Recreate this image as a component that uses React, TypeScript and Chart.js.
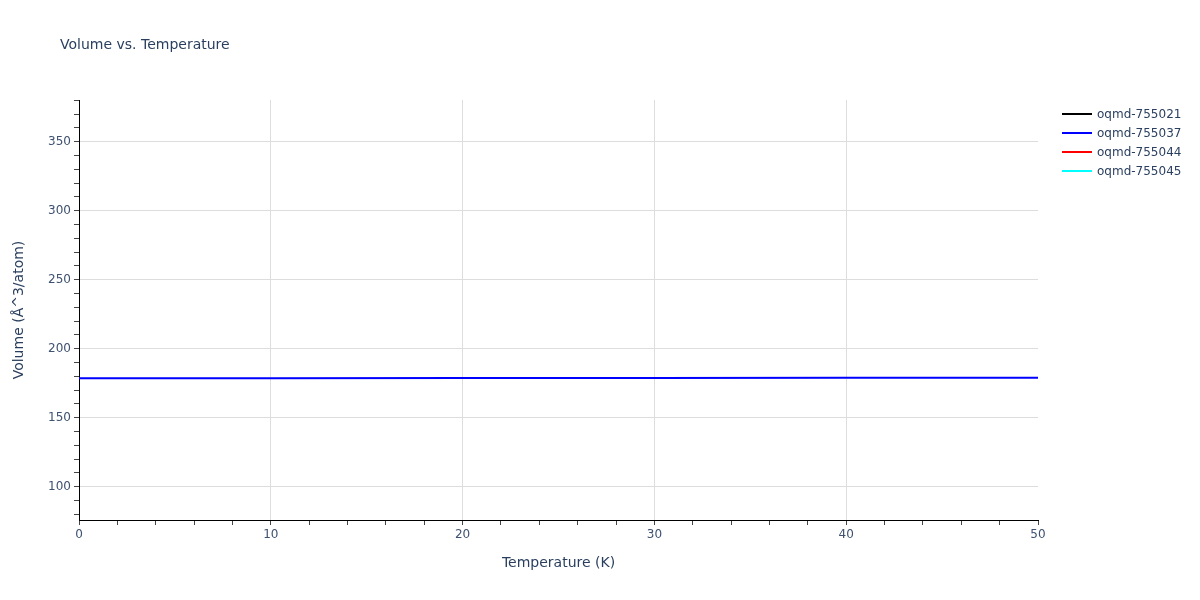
import React, { useEffect, useRef } from "react";
import { Chart, registerables } from "chart.js";

Chart.register(...registerables);

const chartTitle = "Volume vs. Temperature";
const xTitle = "Temperature (K)";
const yTitle = "Volume (Å^3/atom)";

const seriesNames = ["oqmd-755021", "oqmd-755037", "oqmd-755044", "oqmd-755045"];
const seriesColors = ["#000000", "#0000ff", "#ff0000", "#00ffff"];

const temperatures = [0, 10, 20, 30, 40, 50];
const volume755021: number[] = [];
const volume755037 = [178.6, 178.65, 178.7, 178.8, 178.9, 179.0];
const volume755044: number[] = [];
const volume755045: number[] = [];

const xMin = 0;
const xMax = 50;
const yMin = 75.9;
const yMax = 380.2;
const xMinorStep = 2;
const xMajorStep = 10;
const yMinorStep = 10;
const yMajorStep = 50;

const FONT = '"DejaVu Sans", Verdana, sans-serif';
const TEXT = "#2a3f5f";
const TICK_TEXT = "#3e5170";
const GRID = "#dddddd";

function toPoints(ys: number[]) {
  return ys.map((y, i) => ({ x: temperatures[i], y }));
}

function stepTicks(min: number, max: number, step: number) {
  const out: { value: number }[] = [];
  for (let v = Math.ceil(min / step) * step; v <= max + 1e-9; v += step) {
    out.push({ value: Math.round(v * 1000) / 1000 });
  }
  return out;
}

const decorPlugin = {
  id: "decor",
  afterDraw(chart: any) {
    const ctx = chart.ctx;
    ctx.save();
    ctx.fillStyle = TEXT;
    ctx.font = `14px ${FONT}`;
    ctx.textBaseline = "middle";
    ctx.textAlign = "left";
    ctx.fillText(chartTitle, 60, 45);
    ctx.font = `12px ${FONT}`;
    chart.data.datasets.forEach((ds: any, i: number) => {
      const y = 114 + i * 19;
      ctx.strokeStyle = ds.borderColor;
      ctx.lineWidth = 2;
      ctx.beginPath();
      ctx.moveTo(1062, y);
      ctx.lineTo(1092, y);
      ctx.stroke();
      ctx.fillStyle = TEXT;
      ctx.fillText(ds.label, 1097, y + 1);
    });
    ctx.restore();
  },
};

export default function App() {
  const ref = useRef<HTMLCanvasElement | null>(null);
  useEffect(() => {
    if (!ref.current) return;
    const allSeries = [volume755021, volume755037, volume755044, volume755045];
    const chart = new Chart(ref.current, {
      type: "line",
      data: {
        datasets: allSeries.map((s, i) => ({
          label: seriesNames[i],
          data: toPoints(s),
          borderColor: seriesColors[i],
          backgroundColor: seriesColors[i],
          borderWidth: 2,
          pointRadius: 0,
          tension: 0,
          fill: false,
        })),
      },
      options: {
        responsive: false,
        animation: false,
        layout: { padding: { left: 0, top: 100, right: 162, bottom: 0 } },
        plugins: {
          legend: { display: false },
          title: { display: false },
          tooltip: { enabled: false },
        },
        scales: {
          x: {
            type: "linear",
            min: xMin,
            max: xMax,
            afterFit: (s: any) => {
              s.height = 80;
            },
            afterBuildTicks: (s: any) => {
              s.ticks = stepTicks(xMin, xMax, xMinorStep);
            },
            ticks: {
              autoSkip: false,
              maxRotation: 0,
              padding: 3,
              color: TICK_TEXT,
              font: { family: FONT, size: 12 },
              callback: (v: any) => (Number(v) % xMajorStep === 0 ? String(v) : ""),
            },
            grid: {
              drawTicks: true,
              tickLength: 5,
              tickColor: "#444444",
              color: (c: any) =>
                c.tick && c.tick.value % xMajorStep === 0 && c.tick.value !== xMin && c.tick.value !== xMax
                  ? GRID
                  : "rgba(0,0,0,0)",
            },
            border: { display: true, color: "#000000", width: 1 },
            title: {
              display: true,
              text: xTitle,
              color: TEXT,
              font: { family: FONT, size: 14 },
              padding: { top: 0, bottom: 28.6 },
            },
          },
          y: {
            type: "linear",
            min: yMin,
            max: yMax,
            afterFit: (s: any) => {
              s.width = 79;
            },
            afterBuildTicks: (s: any) => {
              s.ticks = stepTicks(yMin, yMax, yMinorStep);
            },
            ticks: {
              autoSkip: false,
              padding: 3,
              color: TICK_TEXT,
              font: { family: FONT, size: 12 },
              callback: (v: any) => (Number(v) % yMajorStep === 0 ? String(v) : ""),
            },
            grid: {
              drawTicks: true,
              tickLength: 5,
              tickColor: "#444444",
              color: (c: any) =>
                c.tick && c.tick.value % yMajorStep === 0 ? GRID : "rgba(0,0,0,0)",
            },
            border: { display: true, color: "#000000", width: 1 },
            title: {
              display: true,
              text: yTitle,
              color: TEXT,
              font: { family: FONT, size: 14 },
              padding: { top: 11, bottom: 0 },
            },
          },
        },
      },
      plugins: [decorPlugin],
    } as any);
    return () => chart.destroy();
  }, []);
  return (
    <div style={{ position: "fixed", left: 0, top: 0, width: 1200, height: 600, background: "#fff" }}>
      <canvas ref={ref} width={1200} height={600} />
    </div>
  );
}
